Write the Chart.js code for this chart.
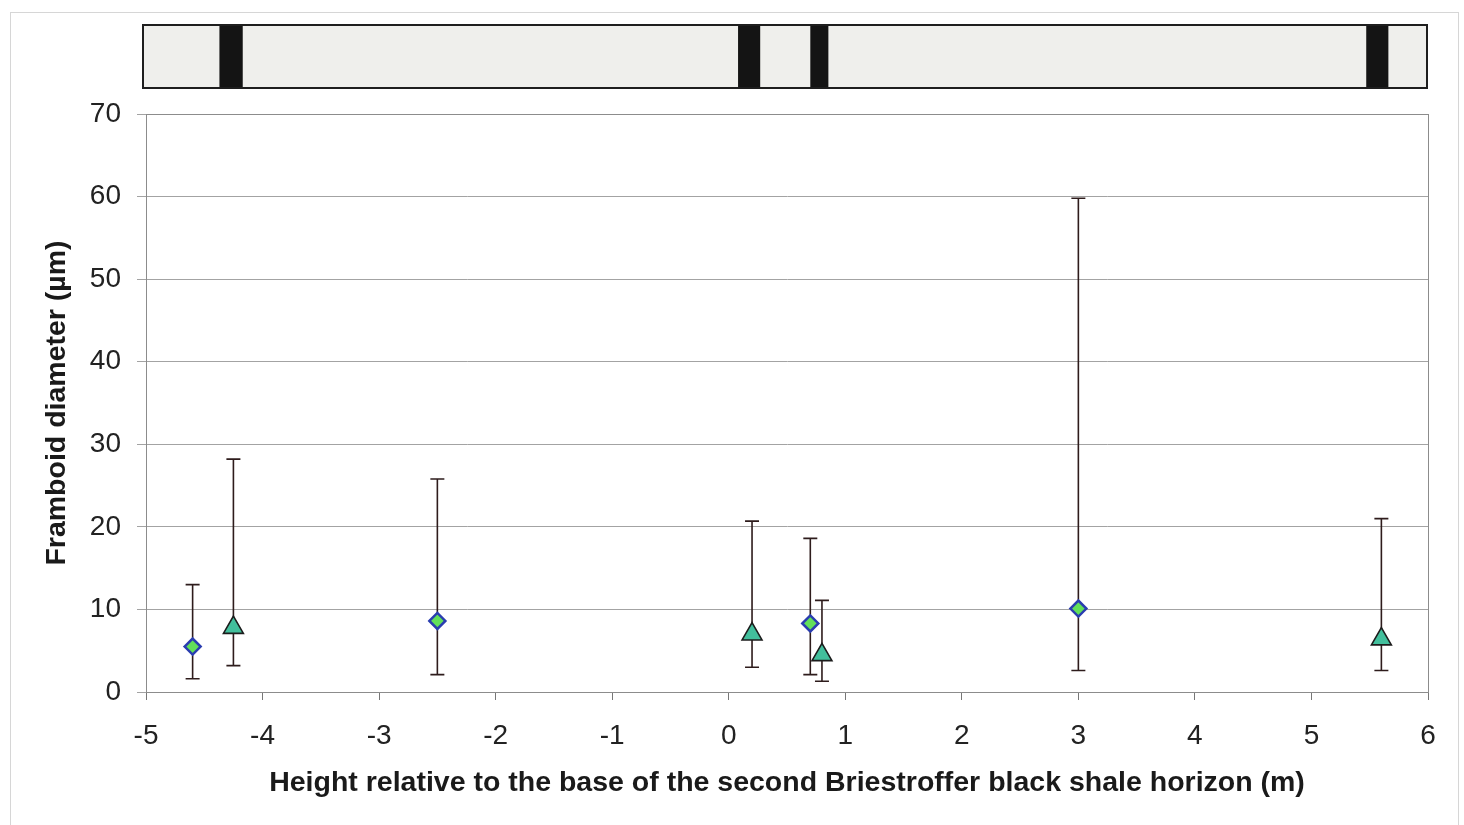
<!DOCTYPE html>
<html>
<head>
<meta charset="utf-8">
<script src="https://cdn.jsdelivr.net/npm/chart.js@4"></script>
<style>
  html, body { margin: 0; padding: 0; background: #fff; }
  #wrap { position: relative; width: 1464px; height: 825px; }
  #frame { position: absolute; left: 10px; top: 12px; width: 1447px; height: 820px; border: 1px solid #d6d6d6; border-bottom: none; }
  canvas { position: absolute; left: 0; top: 0; }
</style>
</head>
<body>
<div id="wrap">
  <div id="frame"></div>
  <canvas id="framboidChart" width="1464" height="825"></canvas>
</div>
<script>
// Diamonds series
const diamondHeight = [-4.6, -2.5, 0.7, 3.0];
const diamondMean = [5.5, 8.6, 8.3, 10.1];
const diamondMin = [1.6, 2.1, 2.1, 2.6];
const diamondMax = [13, 25.8, 18.6, 59.8];

// Triangles series
const triangleHeight = [-4.25, 0.2, 0.8, 5.6];
const triangleMean = [7.8, 7.0, 4.5, 6.4];
const triangleMin = [3.2, 3.0, 1.3, 2.6];
const triangleMax = [28.2, 20.7, 11.1, 21.0];

// Black shale horizons in the log strip (start, end in m)
const shaleStart = [-4.37, 0.08, 0.70, 5.47];
const shaleEnd = [-4.17, 0.27, 0.855, 5.66];

const xTicks = [-5, -4, -3, -2, -1, 0, 1, 2, 3, 4, 5, 6];
const yTicks = [0, 10, 20, 30, 40, 50, 60, 70];

function toPoints(xs, ys) {
    return xs.map((x, i) => ({ x: x, y: ys[i] }));
}

// Min-max bars, drawn under the markers
const errorBars = {
    id: 'errorBars',
    beforeDatasetsDraw(chart) {
        const { ctx, scales: { x, y } } = chart;
        const sets = [
            [diamondHeight, diamondMin, diamondMax],
            [triangleHeight, triangleMin, triangleMax]
        ];
        ctx.save();
        ctx.strokeStyle = '#2e1c1c';
        ctx.lineWidth = 1.6;
        sets.forEach(([xs, lo, hi]) => {
            xs.forEach((v, i) => {
                const px = x.getPixelForValue(v);
                const top = y.getPixelForValue(hi[i]);
                const bot = y.getPixelForValue(lo[i]);
                ctx.beginPath();
                ctx.moveTo(px, top);
                ctx.lineTo(px, bot);
                ctx.moveTo(px - 7, top);
                ctx.lineTo(px + 7, top);
                ctx.moveTo(px - 7, bot);
                ctx.lineTo(px + 7, bot);
                ctx.stroke();
            });
        });
        ctx.restore();
    }
};

// Plot frame + lithology strip on top
const frameAndLog = {
    id: 'frameAndLog',
    afterDraw(chart) {
        const { ctx, chartArea: a, scales: { x } } = chart;
        ctx.save();
        ctx.strokeStyle = '#8c8c8c';
        ctx.lineWidth = 1;
        ctx.strokeRect(a.left + 0.5, a.top + 0.5, a.right - a.left, a.bottom - a.top);

        const top = 25, bottom = 88;
        const left = a.left - 3, right = a.right - 1;
        ctx.fillStyle = '#efefec';
        ctx.fillRect(left, top, right - left, bottom - top);
        ctx.fillStyle = '#141414';
        shaleStart.forEach((s, i) => {
            const x0 = x.getPixelForValue(s);
            const x1 = x.getPixelForValue(shaleEnd[i]);
            ctx.fillRect(x0, top, x1 - x0, bottom - top);
        });
        ctx.strokeStyle = '#1e1e1e';
        ctx.lineWidth = 2;
        ctx.strokeRect(left, top, right - left, bottom - top);
        ctx.restore();
    }
};

const ctx = document.getElementById('framboidChart').getContext('2d');
new Chart(ctx, {
    type: 'scatter',
    data: {
        datasets: [{
            label: 'Diamonds',
            data: toPoints(diamondHeight, diamondMean),
            pointStyle: 'rectRot',
            pointRadius: 8,
            pointHoverRadius: 8,
            backgroundColor: '#62e05a',
            borderColor: '#2a3db0',
            borderWidth: 2.5
        }, {
            label: 'Triangles',
            data: toPoints(triangleHeight, triangleMean),
            pointStyle: 'triangle',
            pointRadius: 11.5,
            pointHoverRadius: 11.5,
            backgroundColor: '#42bf9c',
            borderColor: '#1c1c1c',
            borderWidth: 1.6
        }]
    },
    options: {
        responsive: false,
        animation: false,
        layout: {
            padding: { top: 114, right: 36, left: 0, bottom: 0 }
        },
        plugins: {
            legend: { display: false },
            tooltip: { enabled: false }
        },
        scales: {
            x: {
                type: 'linear',
                min: -5,
                max: 6,
                afterFit: (scale) => { scale.height = 133; },
                afterBuildTicks: (scale) => { scale.ticks = xTicks.map(v => ({ value: v })); },
                grid: {
                    drawOnChartArea: false,
                    drawTicks: true,
                    tickLength: 8,
                    color: '#777'
                },
                border: { color: '#777' },
                ticks: {
                    padding: 19,
                    color: '#222',
                    font: { family: 'Liberation Sans', size: 28 }
                },
                title: {
                    display: true,
                    text: 'Height relative to the base of the second Briestroffer black shale horizon (m)',
                    color: '#1a1a1a',
                    font: { family: 'Liberation Sans', size: 28.5, weight: 'bold' },
                    padding: { top: 0, bottom: 25 }
                }
            },
            y: {
                type: 'linear',
                min: 0,
                max: 70,
                afterFit: (scale) => { scale.width = 146; },
                afterBuildTicks: (scale) => { scale.ticks = yTicks.map(v => ({ value: v })); },
                grid: {
                    drawTicks: true,
                    tickLength: 9,
                    color: '#a3a3a3'
                },
                border: { color: '#777' },
                ticks: {
                    padding: 16,
                    color: '#222',
                    font: { family: 'Liberation Sans', size: 28 }
                },
                title: {
                    display: true,
                    text: 'Framboid diameter (µm)',
                    color: '#1a1a1a',
                    font: { family: 'Liberation Sans', size: 28.5, weight: 'bold' },
                    padding: { top: 40, bottom: 0 }
                }
            }
        }
    },
    plugins: [errorBars, frameAndLog]
});
</script>
</body>
</html>
